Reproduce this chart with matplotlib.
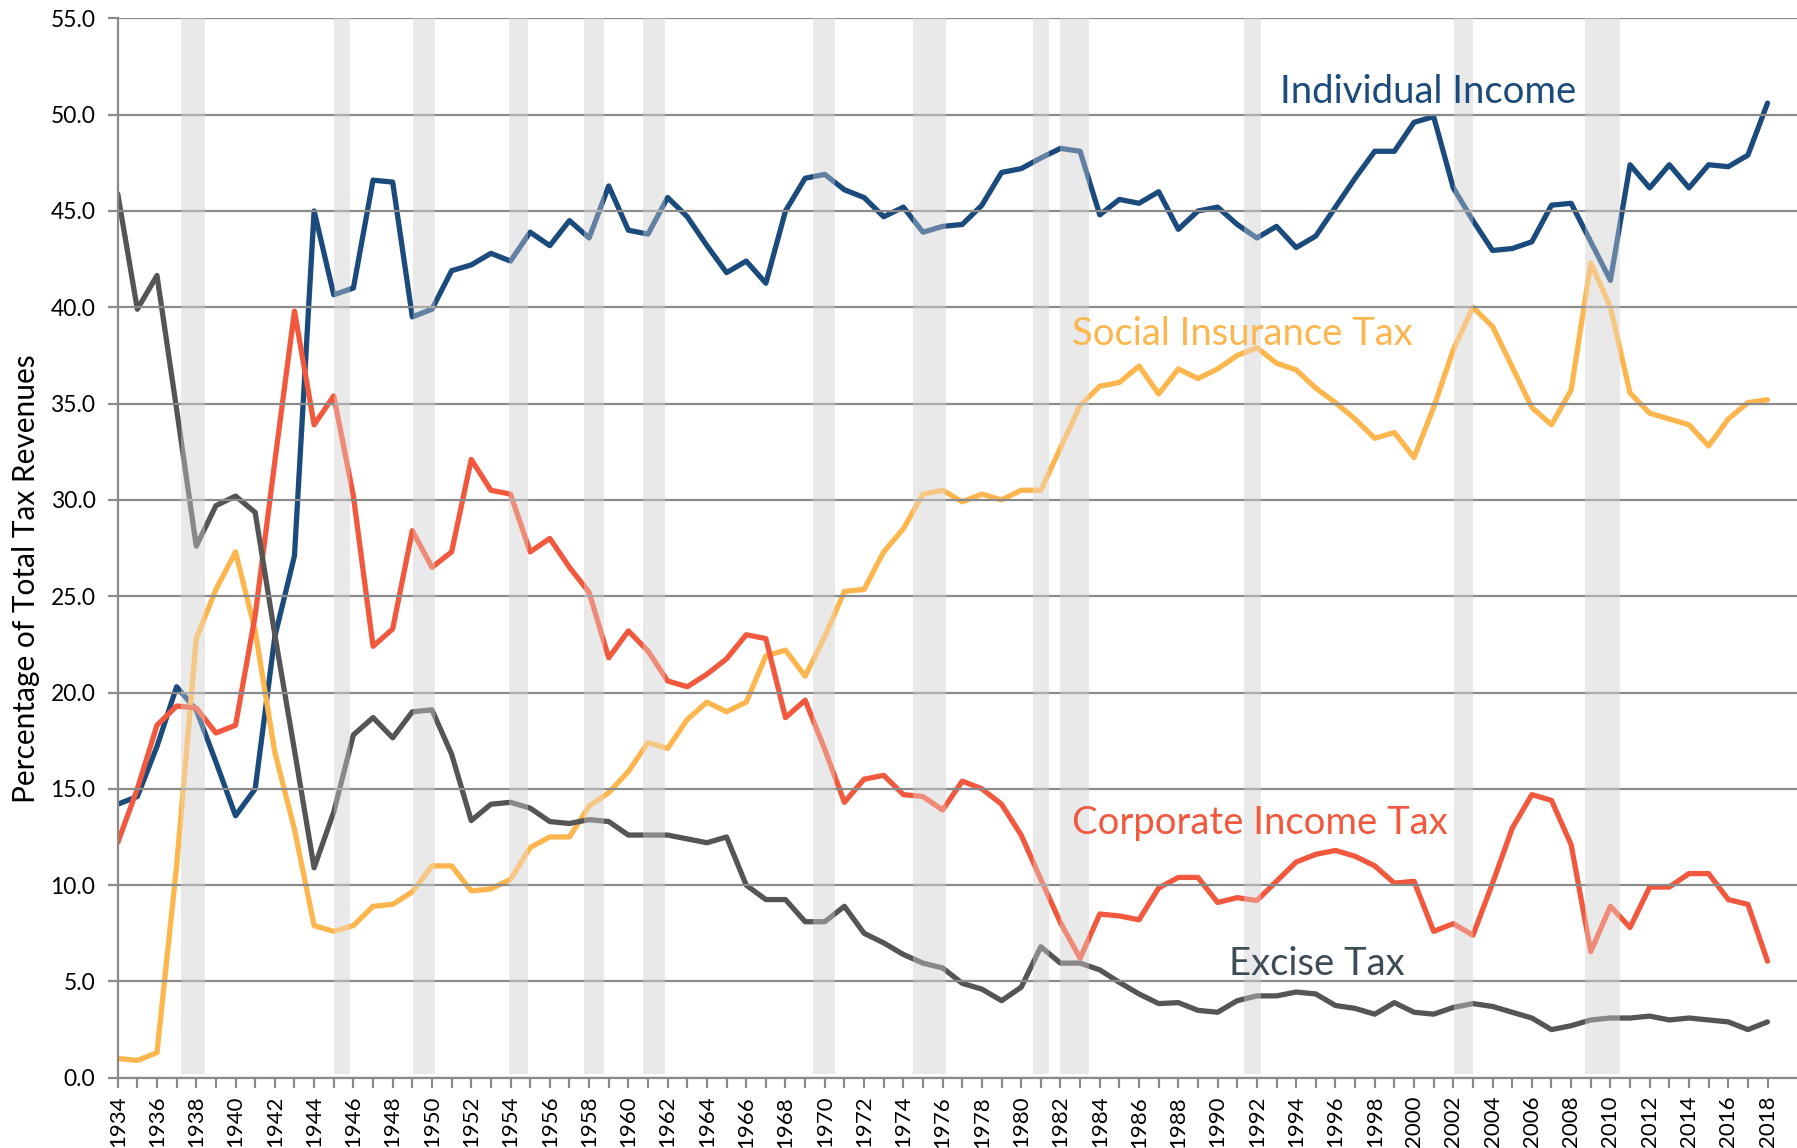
import numpy as np
import matplotlib
matplotlib.use("Agg")
import matplotlib.pyplot as plt

plt.rcParams['font.family'] = ['Lato', 'DejaVu Sans']

years = list(range(1934, 2019))

individual = [14.2, 14.6, 17.2, 20.3, 19.1, 16.4, 13.6, 15.0, 22.9, 27.1,
              45.0, 40.65, 41.0, 46.6, 46.5, 39.5, 39.9, 41.9, 42.2, 42.8,
              42.4, 43.9, 43.2, 44.5, 43.6, 46.3, 44.0, 43.8, 45.7, 44.7,
              43.2, 41.8, 42.4, 41.25, 45.0, 46.7, 46.9, 46.1, 45.7, 44.7,
              45.2, 43.9, 44.2, 44.3, 45.3, 47.0, 47.2, 47.75, 48.25, 48.1,
              44.8, 45.6, 45.4, 46.0, 44.05, 45.0, 45.2, 44.3, 43.6, 44.2,
              43.1, 43.7, 45.2, 46.7, 48.1, 48.1, 49.6, 49.9, 46.2, 44.5,
              42.95, 43.05, 43.4, 45.3, 45.4, 43.4, 41.4, 47.4, 46.2, 47.4,
              46.2, 47.4, 47.3, 47.9, 50.6]

social = [1.0, 0.9, 1.3, 11.0, 22.8, 25.35, 27.3, 23.2, 16.9, 12.9,
          7.9, 7.6, 7.9, 8.9, 9.0, 9.65, 11.0, 11.0, 9.7, 9.8,
          10.3, 11.95, 12.5, 12.5, 14.1, 14.8, 15.9, 17.4, 17.1, 18.6,
          19.5, 19.0, 19.5, 21.9, 22.2, 20.85, 22.9, 25.25, 25.35, 27.3,
          28.5, 30.3, 30.5, 29.9, 30.3, 30.0, 30.5, 30.5, 32.7, 34.9,
          35.9, 36.1, 36.95, 35.5, 36.8, 36.3, 36.8, 37.5, 37.9, 37.1,
          36.75, 35.8, 35.05, 34.2, 33.2, 33.5, 32.2, 34.8, 37.8, 40.0,
          39.0, 36.9, 34.8, 33.9, 35.7, 42.3, 40.0, 35.55, 34.5, 34.2,
          33.9, 32.8, 34.2, 35.05, 35.2]

corporate = [12.2, 15.0, 18.3, 19.3, 19.2, 17.9, 18.3, 24.0, 32.0, 39.8,
             33.9, 35.4, 30.2, 22.4, 23.3, 28.4, 26.5, 27.3, 32.1, 30.5,
             30.3, 27.3, 28.0, 26.5, 25.2, 21.8, 23.2, 22.15, 20.6, 20.3,
             20.95, 21.75, 23.0, 22.8, 18.7, 19.6, 17.05, 14.3, 15.5, 15.7,
             14.7, 14.6, 13.9, 15.4, 15.0, 14.2, 12.6, 10.3, 8.05, 6.2,
             8.5, 8.4, 8.2, 9.85, 10.4, 10.4, 9.1, 9.35, 9.2, 10.2,
             11.2, 11.6, 11.8, 11.5, 11.0, 10.1, 10.2, 7.6, 8.0, 7.4,
             10.1, 12.95, 14.7, 14.4, 12.1, 6.55, 8.9, 7.8, 9.9, 9.9,
             10.6, 10.6, 9.25, 9.0, 6.05]

excise = [45.9, 39.9, 41.65, 34.7, 27.6, 29.7, 30.2, 29.35, 23.0, 17.0,
          10.9, 13.8, 17.8, 18.7, 17.65, 19.0, 19.1, 16.8, 13.35, 14.2,
          14.3, 14.0, 13.3, 13.2, 13.4, 13.3, 12.6, 12.6, 12.6, 12.4,
          12.2, 12.5, 10.0, 9.25, 9.25, 8.1, 8.1, 8.9, 7.5, 7.0,
          6.4, 5.95, 5.7, 4.9, 4.6, 4.0, 4.7, 6.8, 5.95, 5.95,
          5.6, 4.95, 4.35, 3.85, 3.9, 3.5, 3.4, 4.0, 4.25, 4.25,
          4.45, 4.35, 3.75, 3.6, 3.3, 3.9, 3.4, 3.3, 3.65, 3.85,
          3.7, 3.4, 3.1, 2.5, 2.7, 3.0, 3.1, 3.1, 3.2, 3.0,
          3.1, 3.0, 2.9, 2.5, 2.9]

# recession periods (start, end) in fractional years
recessions = [(1937.2, 1938.45), (1945.0, 1945.85), (1949.05, 1950.15),
              (1953.9, 1954.9), (1957.75, 1958.75), (1960.75, 1961.85),
              (1969.4, 1970.5), (1974.5, 1976.15), (1980.6, 1981.4),
              (1982.0, 1983.45), (1991.35, 1992.2), (2002.05, 2003.0),
              (2008.7, 2010.5)]

series_labels = ['Individual Income', 'Social Insurance Tax', 'Corporate Income Tax', 'Excise Tax']
colors = ['#1b4a7d', '#fdb64e', '#f1583d', '#555555']
label_colors = ['#1b4a7d', '#fdb64e', '#f1583d', '#3e4c56']
label_pos = [(1993.2, 51.2), (1982.6, 38.6), (1982.6, 13.2), (1990.6, 5.9)]

fig = plt.figure(figsize=(17.97, 11.48), dpi=100)
ax = fig.add_axes([0.0655, 0.0612, 0.9345, 0.9228])

band_color = '#e9e9e9'
for start, end in recessions:
    ax.axvspan(start, end, ymin=0.004, ymax=1.0, color=band_color, lw=0, zorder=0.5)
    # translucent overlay so lines look faded inside recessions
    ax.axvspan(start, end, ymin=0.004, ymax=1.0, color=band_color, alpha=0.35, lw=0, zorder=3)

ax.yaxis.grid(True, color='#8a8a8a', lw=1.6, zorder=1)
ax.set_axisbelow(False)

for vals, c in zip([individual, social, corporate, excise], colors):
    ax.plot(years, vals, color=c, lw=3.8, solid_joinstyle='round', solid_capstyle='round', zorder=2)

for text, c, (x, y) in zip(series_labels, label_colors, label_pos):
    ax.text(x, y, text, color=c, fontsize=27.5, ha='left', va='center', zorder=4)

ax.set_xlim(1934, 2019.5)
ax.set_ylim(0, 55)
ax.set_yticks(np.arange(0, 55.1, 5))
ax.set_yticklabels([f'{v:.1f}' for v in np.arange(0, 55.1, 5)], fontsize=16.5)
ax.set_xticks(years)
ax.set_xticklabels([str(y) if y % 2 == 0 else '' for y in years], rotation=90, fontsize=16)
ax.tick_params(axis='both', length=7, width=1.6, color='#8a8a8a')
ax.tick_params(axis='y', pad=9)
ax.tick_params(axis='x', pad=6)

for side in ['top', 'right']:
    ax.spines[side].set_visible(False)
for side in ['left', 'bottom']:
    ax.spines[side].set_color('#8a8a8a')
    ax.spines[side].set_linewidth(1.6)

ax.set_ylabel('Percentage of Total Tax Revenues', fontsize=21.5)
ax.yaxis.set_label_coords(-0.046, 0.471)

fig.savefig('out.png', dpi=100)
